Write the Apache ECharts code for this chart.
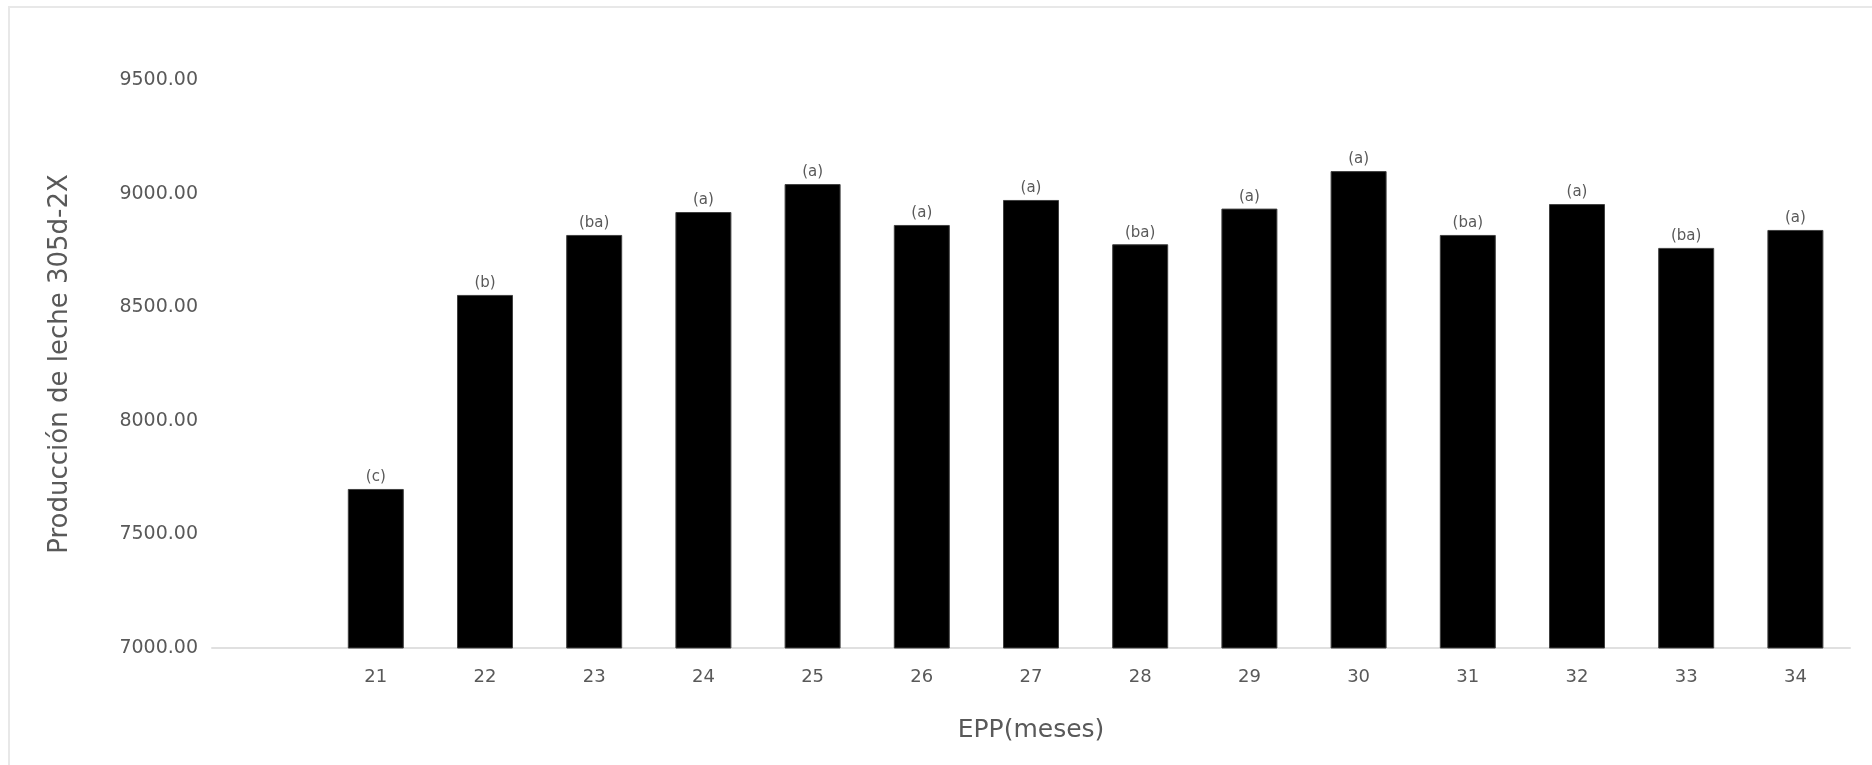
<!DOCTYPE html>
<html>
<head>
<meta charset="utf-8">
<script src="https://cdn.jsdelivr.net/npm/echarts@6/dist/echarts.min.js"></script>
<style>
  html, body { margin: 0; padding: 0; background: #fff; }
  #chart { width: 1872px; height: 765px; }
</style>
</head>
<body>
<div id="chart"></div>
<script>
// first slot is empty in the original sheet
const months = ["", "21", "22", "23", "24", "25", "26", "27", "28", "29", "30", "31", "32", "33", "34"];
const leche = [null, 7700, 8554, 8818, 8919, 9042, 8862, 8972, 8777, 8934, 9099, 8818, 8954, 8761, 8840];
const grupos = ["", "(c)", "(b)", "(ba)", "(a)", "(a)", "(a)", "(a)", "(ba)", "(a)", "(a)", "(ba)", "(a)", "(ba)", "(a)"];
const yTicks = [7000, 7500, 8000, 8500, 9000, 9500];

const font = "DejaVu Sans";
const grey = "#595959";

const chart = echarts.init(document.getElementById("chart"));

chart.setOption({
  backgroundColor: "#fff",
  animation: false,
  graphic: [{
    type: "rect",
    shape: { x: 9, y: 7, width: 1900, height: 800 },
    style: { fill: "none", stroke: "#e8e8e8", lineWidth: 2 },
    silent: true,
  }],
  grid: { left: 212, right: 22, top: 80, bottom: 117 },
  xAxis: {
    type: "category",
    data: months,
    name: "EPP(meses)",
    nameLocation: "middle",
    nameGap: 70,
    nameTextStyle: { fontFamily: font, fontSize: 25, color: grey },
    axisLine: { lineStyle: { color: "#e0e0e0", width: 2 } },
    axisTick: { show: false },
    axisLabel: { fontFamily: font, fontSize: 18, color: grey, margin: 20 },
  },
  yAxis: {
    type: "value",
    min: yTicks[0],
    max: yTicks[yTicks.length - 1],
    interval: 500,
    name: "Producción de leche 305d-2X",
    nameLocation: "middle",
    nameGap: 139,
    nameTextStyle: { fontFamily: font, fontSize: 26, color: grey },
    axisLine: { show: false },
    axisTick: { show: false },
    splitLine: { show: false },
    axisLabel: {
      fontFamily: font, fontSize: 19, color: grey, margin: 14,
      formatter: (v) => v.toFixed(2),
    },
  },
  series: [{
    type: "bar",
    data: leche,
    barWidth: 56,
    itemStyle: { color: "#000", borderColor: "#404040", borderWidth: 1 },
    label: {
      show: true,
      position: "top",
      distance: 4,
      fontFamily: font,
      fontSize: 15,
      color: grey,
      formatter: (p) => grupos[p.dataIndex],
    },
  }],
});
</script>
</body>
</html>
